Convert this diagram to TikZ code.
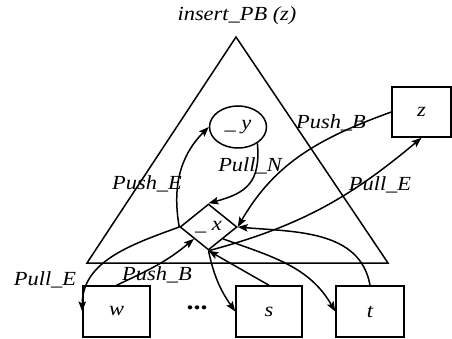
\documentclass[tikz,border=0pt]{standalone}
\usepackage{fontspec}
\setmainfont{Liberation Serif}[FakeStretch=1.12]
\usetikzlibrary{shapes.geometric,arrows.meta}

\begin{document}
\begin{tikzpicture}[x=1pt,y=1pt,line width=1.5pt,font=\fontsize{20}{22}\selectfont\itshape,
  box/.style={draw,rectangle,minimum height=51pt,inner sep=0pt},
  lbl/.style={inner sep=0pt},
  arr/.style={-{Stealth[length=10pt,width=7.5pt,inset=2pt]}}]
  \useasboundingbox (0,0) rectangle (452,338);
  \coordinate (A) at (236,301); \coordinate (B) at (87,75); \coordinate (C) at (388,75);
  \draw (A)--(B)--(C)--cycle;
  \node[lbl] (title) at (237,322) {insert\_PB (z)};
  \node[draw,ellipse,minimum width=57pt,minimum height=42pt,inner sep=0pt] (y) at (238,211) {\_ y};
  \node[draw,diamond,minimum width=57pt,minimum height=46pt,inner sep=0pt] (x) at (208.5,111) {\_ x};
  \node[box,minimum width=59pt,minimum height=50pt] (z) at (421.5,226) {z};
  \node[box,minimum width=67pt] (w) at (116.5,26.5) {w};
  \node[box,minimum width=66pt] (s) at (269,26.5) {s};
  \node[box,minimum width=68pt] (t) at (370,26.5) {t};
  \node[lbl,font=\fontsize{25}{26}\selectfont\bfseries] (dots) at (197,30) {...};
  \draw[arr] (x.west) to[out=100,in=225] (y.west);
  \draw[arr] (y.-40) to[out=-85,in=15,looseness=1.3] (x.north);
  \draw[arr] (z.west) to[out=200,in=60] (x.east);
  \draw[arr] (x.south) to[out=15,in=220] (z.south);
  \draw[arr] (t.north) to[out=100,in=-5] (x.east);
  \draw[arr] (s.north) -- (x.south);
  \draw[arr] (x.south) to[out=-78,in=125] (s.west);
  \draw[arr] (x.south east) to[out=-20,in=120] (t.west);
  \draw[arr] (x.west) to[out=200,in=90] (w.west);
  \draw[arr] (w.north) to[out=25,in=220] (x.south west);
  \node[lbl] (pushE) at (147,154) {Push\_E};
  \node[lbl] (pullN) at (250,172) {Pull\_N};
  \node[lbl] (pushBz) at (331,215) {Push\_B};
  \node[lbl] (pullEz) at (380,153) {Pull\_E};
  \node[lbl] (pullEw) at (45,58) {Pull\_E};
  \node[lbl] (pushBw) at (157,63) {Push\_B};
\end{tikzpicture}
\end{document}
